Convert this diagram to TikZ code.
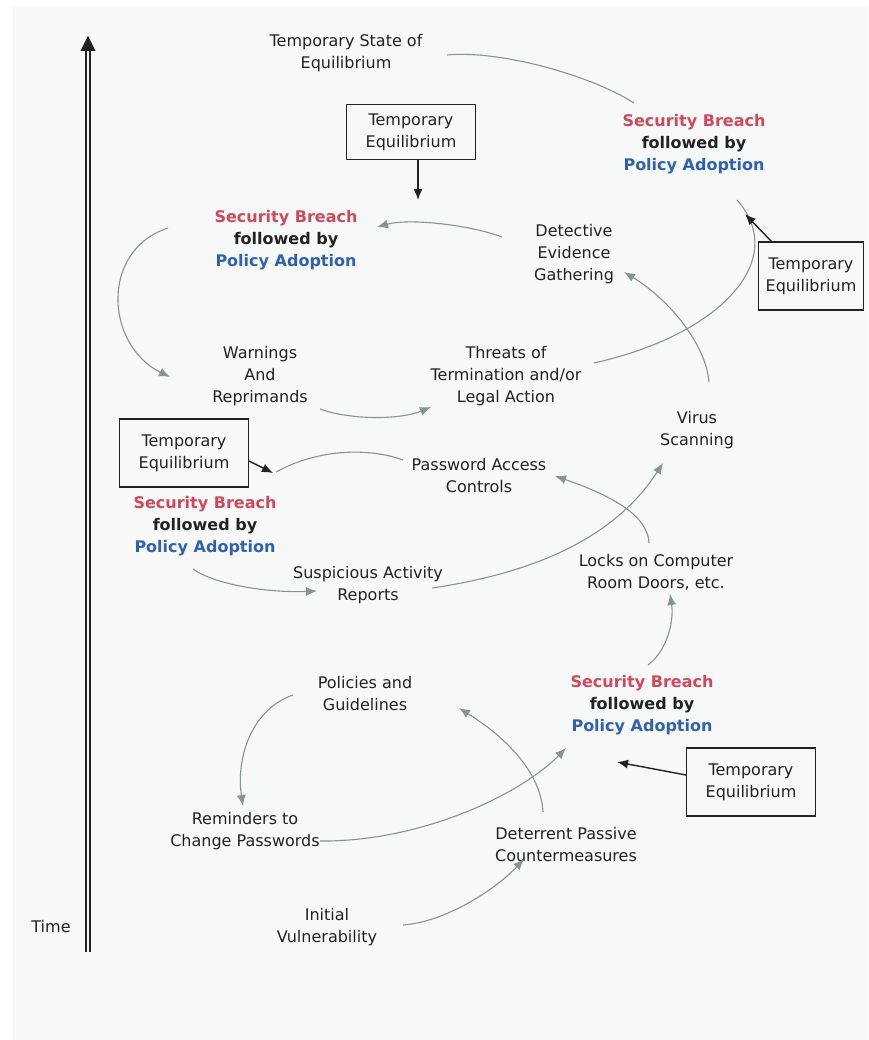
\documentclass[tikz,border=0pt]{standalone}
\usepackage{fontspec}
\setmainfont{DejaVu Sans}
\usetikzlibrary{arrows.meta,calc}
\definecolor{paper}{HTML}{F7F8F8}
\definecolor{ink}{HTML}{222222}
\definecolor{flow}{HTML}{869494}
\definecolor{breach}{HTML}{D2485A}
\definecolor{policy}{HTML}{2F62AE}
\newcommand{\breachtext}{{\color{breach}Security Breach}\\{\color{ink}followed by}\\{\color{policy}Policy Adoption}}

\begin{document}
\begin{tikzpicture}[x=1pt,y=-1pt,
  lbl/.style={align=center, inner sep=0pt, text=ink, font={\fontsize{16}{22}\selectfont}},
  sb/.style={lbl, font={\fontsize{16}{22}\selectfont\bfseries}},
  eqbox/.style={lbl, draw=ink, line width=1.1pt, minimum width=129pt, minimum height=68pt},
  conn/.style={draw=flow, line width=1.1pt, -{Latex[length=11pt,width=9pt]}},
  plain/.style={draw=flow, line width=1.1pt},
  blk/.style={draw=ink, line width=1.4pt, -{Latex[length=11pt,width=9pt]}}]
\useasboundingbox (0,0) rectangle (868,1040);
\fill[white] (0,0) rectangle (868,1040);
\fill[paper] (13,7) rectangle (868,1040);

% time axis
\coordinate (axisbot) at (88,952);
\coordinate (axistop) at (88,36);
\draw[ink, line width=1.9pt, double=paper, double distance=1.8pt, shorten >=12pt] (axisbot) -- (axistop);
\fill[ink] (axistop) -- ++(-7.5,15) -- ++(15,0) -- cycle;
\node[lbl] (time) at (51,927) {Time};

% labels
\node[lbl] (tse)   at (346,53)  {Temporary State of\\Equilibrium};
\node[sb]  (sb2)   at (694,144) {\breachtext};
\node[eqbox, minimum height=55pt] (tebox1) at (411,132) {Temporary\\Equilibrium};
\node[sb]  (sb1)   at (286,240) {\breachtext};
\node[lbl] (det)   at (574,254) {Detective\\Evidence\\Gathering};
\node[eqbox, minimum width=105pt] (tebox2) at (811,276) {Temporary\\Equilibrium};
\node[lbl] (warn)  at (260,376) {Warnings\\And\\Reprimands};
\node[lbl] (thr)   at (506,376) {Threats of\\Termination and/or\\Legal Action};
\node[lbl] (virus) at (697,430) {Virus\\Scanning};
\node[eqbox] (tebox3) at (184,453) {Temporary\\Equilibrium};
\node[lbl] (pwd)   at (479,476) {Password Access\\Controls};
\node[sb]  (sb3)   at (205,526) {\breachtext};
\node[lbl] (sus)   at (368,585) {Suspicious Activity\\Reports};
\node[lbl] (locks) at (656,572) {Locks on Computer\\Room Doors, etc.};
\node[lbl] (pol)   at (365,694) {Policies and\\Guidelines};
\node[sb]  (sb4)   at (642,705) {\breachtext};
\node[eqbox] (tebox4) at (751,782) {Temporary\\Equilibrium};
\node[lbl] (rem)   at (245,831) {Reminders to\\Change Passwords};
\node[lbl] (det2)  at (566,845) {Deterrent Passive\\Countermeasures};
\node[lbl] (ini)   at (327,927) {Initial\\Vulnerability};

% flow of events
\draw[conn] ($(ini)+(76,-2)$) .. controls (445,922) and (495,890) .. ($(det2)+(-42,14)$);
\draw[conn] ($(det2)+(-23,-33)$) .. controls (541,775) and (510,740) .. ($(pol)+(94,14)$);
\draw[conn] ($(rem)+(75,10)$) .. controls (420,842) and (520,795) .. ($(sb4)+(-76,43)$);
\draw[conn] ($(pol)+(-72,1)$) .. controls (250,710) and (236,760) .. ($(rem)+(-2,-25)$);
\draw[conn] ($(sb4)+(6,-40)$) .. controls (668,650) and (674,620) .. ($(locks)+(14,22)$);
\draw[conn] ($(locks)+(-7,-29)$) .. controls (648,515) and (610,495) .. ($(pwd)+(76,0)$);
\draw[conn] ($(sus)+(64,3)$) .. controls (520,575) and (610,545) .. ($(virus)+(-34,33)$);
\draw[conn] ($(sb3)+(-12,43)$) .. controls (215,585) and (270,593) .. ($(sus)+(-51,6)$);
\draw[plain] ($(pwd)+(-76,-16)$) .. controls (370,448) and (320,448) .. ($(sb3)+(71,-54)$);
\draw[conn] ($(virus)+(12,-48)$) .. controls (706,345) and (670,300) .. ($(det)+(50,18)$);
\draw[conn] ($(det)+(-72,-17)$) .. controls (470,225) and (410,218) .. ($(sb1)+(91,-13)$);
\draw[conn] ($(sb1)+(-118,-12)$) .. controls (100,250) and (105,345) .. ($(warn)+(-90,1)$);
\draw[conn] ($(warn)+(60,33)$) .. controls (350,420) and (400,420) .. ($(thr)+(-75,31)$);
\draw[plain] ($(thr)+(88,-13)$) .. controls (720,335) and (790,260) .. ($(sb2)+(43,56)$);
\draw[plain] ($(sb2)+(-60,-41)$) .. controls (590,75) and (500,50) .. ($(tse)+(101,2)$);

% equilibrium pointers
\draw[blk] ([xshift=7pt]tebox1.south) -- ($(sb1)+(132,-40)$);
\draw[blk] ($(tebox2)+(-39,-34)$) -- ($(sb2)+(51,70)$);
\draw[blk] ($(tebox3.east)+(0,8)$) -- ($(sb3)+(68,-53)$);
\draw[blk] ($(tebox4.west)+(0,-7)$) -- ($(sb4)+(-25,57)$);
\end{tikzpicture}
\end{document}
